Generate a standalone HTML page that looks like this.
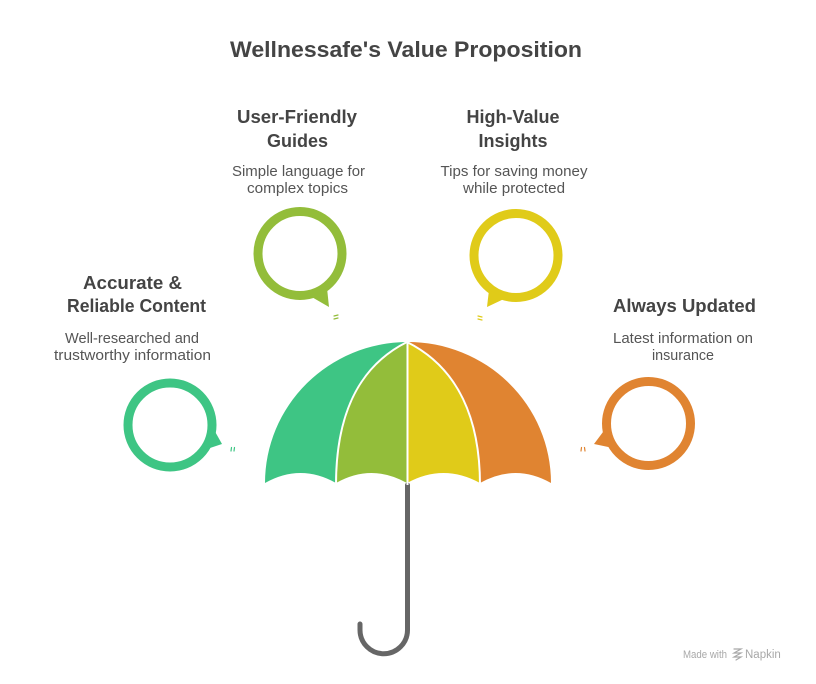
<!DOCTYPE html>
<html>
<head>
<meta charset="utf-8">
<style>
  html,body{margin:0;padding:0;background:#fff;}
  svg{display:block;}
  .t{font-family:"Liberation Sans",Arial,sans-serif;font-weight:bold;fill:#444;}
  .d{font-family:"Liberation Sans",Arial,sans-serif;fill:#555;}
</style>
</head>
<body>
<svg width="816" height="684" viewBox="0 0 816 684" xmlns="http://www.w3.org/2000/svg">
  <rect width="816" height="684" fill="#fff"/>

  <!-- Title -->
  <text x="406" y="57" text-anchor="middle" class="t" font-size="22" textLength="352" lengthAdjust="spacingAndGlyphs">Wellnessafe's Value Proposition</text>

  <!-- Labels -->
  <text x="297" y="123" text-anchor="middle" class="t" font-size="18" textLength="120" lengthAdjust="spacingAndGlyphs">User-Friendly</text>
  <text x="297.5" y="147" text-anchor="middle" class="t" font-size="18" textLength="61" lengthAdjust="spacingAndGlyphs">Guides</text>
  <text x="298.5" y="176" text-anchor="middle" class="d" font-size="14.5" textLength="133" lengthAdjust="spacingAndGlyphs">Simple language for</text>
  <text x="297.5" y="193" text-anchor="middle" class="d" font-size="14.5" textLength="101" lengthAdjust="spacingAndGlyphs">complex topics</text>

  <text x="513" y="123" text-anchor="middle" class="t" font-size="18">High-Value</text>
  <text x="513" y="147" text-anchor="middle" class="t" font-size="18">Insights</text>
  <text x="514" y="176" text-anchor="middle" class="d" font-size="14.5" textLength="147" lengthAdjust="spacingAndGlyphs">Tips for saving money</text>
  <text x="514" y="193" text-anchor="middle" class="d" font-size="14.5" textLength="102" lengthAdjust="spacingAndGlyphs">while protected</text>

  <text x="132.5" y="289" text-anchor="middle" class="t" font-size="18" textLength="99" lengthAdjust="spacingAndGlyphs">Accurate &amp;</text>
  <text x="136.5" y="312" text-anchor="middle" class="t" font-size="18" textLength="139" lengthAdjust="spacingAndGlyphs">Reliable Content</text>
  <text x="132" y="343" text-anchor="middle" class="d" font-size="14.5" textLength="134" lengthAdjust="spacingAndGlyphs">Well-researched and</text>
  <text x="132.5" y="360" text-anchor="middle" class="d" font-size="14.5" textLength="157" lengthAdjust="spacingAndGlyphs">trustworthy information</text>

  <text x="684.5" y="312" text-anchor="middle" class="t" font-size="18" textLength="143" lengthAdjust="spacingAndGlyphs">Always Updated</text>
  <text x="683" y="343" text-anchor="middle" class="d" font-size="14.5" textLength="140" lengthAdjust="spacingAndGlyphs">Latest information on</text>
  <text x="683" y="360" text-anchor="middle" class="d" font-size="14.5" textLength="62" lengthAdjust="spacingAndGlyphs">insurance</text>

  <!-- Speech bubbles -->
  <!-- green -->
  <circle cx="170" cy="425" r="42" fill="none" stroke="#3EC584" stroke-width="9"/>
  <polygon points="213,428 222,444 204,450" fill="#3EC584"/>
  <g stroke="#3EC584" stroke-width="1.2" stroke-linecap="round">
    <line x1="231.5" y1="447.5" x2="231" y2="451"/>
    <line x1="234.5" y1="447.5" x2="234" y2="451"/>
  </g>

  <!-- olive -->
  <circle cx="300" cy="253.5" r="42" fill="none" stroke="#93BD3A" stroke-width="9"/>
  <polygon points="327,288 329,307 310,296" fill="#93BD3A"/>
  <g stroke="#93BD3A" stroke-width="1.2" stroke-linecap="round">
    <line x1="334" y1="316" x2="338" y2="315"/>
    <line x1="334" y1="319" x2="338" y2="318"/>
  </g>

  <!-- yellow -->
  <circle cx="516" cy="255.5" r="42" fill="none" stroke="#E0CB19" stroke-width="9"/>
  <polygon points="489,290 487,307 506,298" fill="#E0CB19"/>
  <g stroke="#E0CB19" stroke-width="1.2" stroke-linecap="round">
    <line x1="478" y1="316" x2="482" y2="317"/>
    <line x1="478" y1="319" x2="482" y2="320"/>
  </g>

  <!-- orange -->
  <circle cx="648.5" cy="423.5" r="42" fill="none" stroke="#E08431" stroke-width="9"/>
  <polygon points="606,428 594,444 613,448" fill="#E08431"/>
  <g stroke="#E08431" stroke-width="1.2" stroke-linecap="round">
    <line x1="581.5" y1="447.5" x2="581" y2="451"/>
    <line x1="584.5" y1="447.5" x2="585" y2="451"/>
  </g>

  <!-- Umbrella handle -->
  <path d="M407.5,485 L407.5,630 A23.75,23.75 0 0 1 360,630 L360,624" fill="none" stroke="#666" stroke-width="5" stroke-linecap="round"/>

  <!-- Umbrella canopy -->
  <path d="M265,483 A143,141 0 0 1 407,342 C355,368 336,420 336,483 Q300.5,463 265,483 Z" fill="#3EC584"/>
  <path d="M336,483 C336,420 355,368 407,342 L407,483 Q371.5,463 336,483 Z" fill="#93BD3A"/>
  <path d="M407,342 C459,368 480,420 480,483 Q443.5,463 407,483 Z" fill="#E0CB19"/>
  <path d="M480,483 C480,420 459,368 407,342 A143,141 0 0 1 551,483 Q515.5,463 480,483 Z" fill="#E08431"/>
  <!-- dividers -->
  <g fill="none" stroke="#fff" stroke-width="2">
    <path d="M407,342 C355,368 336,420 336,485"/>
    <path d="M407,342 C459,368 480,420 480,485"/>
    <path d="M407.5,341 L407.5,485"/>
  </g>

  <!-- Watermark -->
  <text x="683" y="658" class="d" font-size="11" style="fill:#a8a8a8" textLength="44" lengthAdjust="spacingAndGlyphs">Made with</text>
  <g stroke="#a8a8a8" stroke-width="1.2" fill="none" stroke-linecap="round">
    <path d="M734,649 L741,649 L734,653 L741,653 L734,657 L741,657 L736,660"/>
  </g>
  <text x="745" y="658" class="d" font-size="11.5" style="fill:#a8a8a8">Napkin</text>
</svg>
</body>
</html>
